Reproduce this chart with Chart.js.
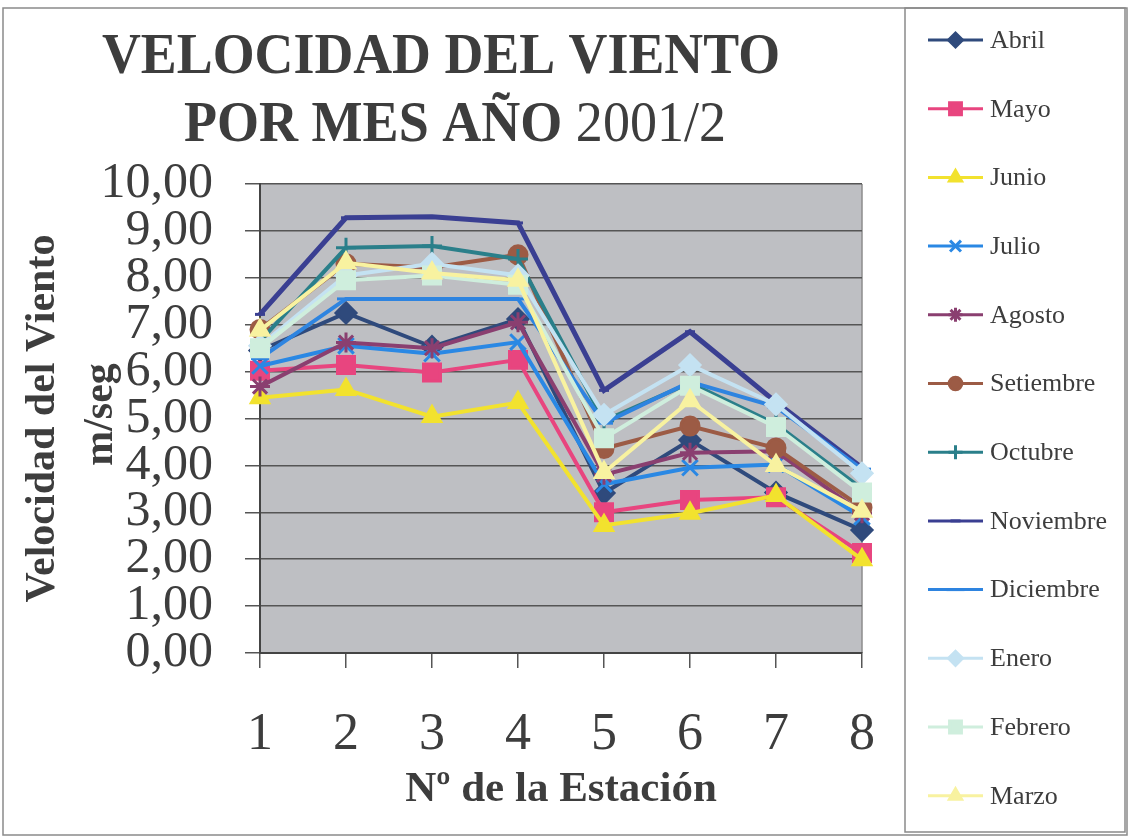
<!DOCTYPE html>
<html lang="es">
<head>
<meta charset="utf-8">
<title>Velocidad del viento por mes</title>
<script src="https://cdn.jsdelivr.net/npm/chart.js@4.4.1/dist/chart.umd.min.js"></script>
<style>
    html, body { margin: 0; padding: 0; background: #fff; }
    #wrap { width: 1130px; height: 838px; position: relative; }
</style>
</head>
<body>
<div id="wrap"><canvas id="vientoChart"></canvas></div>
<script>
// Estaciones de medición (eje X)
const estaciones = ['1', '2', '3', '4', '5', '6', '7', '8'];
const meses = ['Abril', 'Mayo', 'Junio', 'Julio', 'Agosto', 'Setiembre',
    'Octubre', 'Noviembre', 'Diciembre', 'Enero', 'Febrero', 'Marzo'];

// Velocidad media del viento (m/seg) por estación
const abril     = [6.45, 7.25, 6.53, 7.12, 3.41, 4.54, 3.42, 2.62];
const mayo      = [6.02, 6.14, 5.98, 6.25, 3.00, 3.26, 3.32, 2.13];
const junio     = [5.44, 5.62, 5.04, 5.34, 2.72, 2.98, 3.36, 1.99];
const julio     = [6.12, 6.55, 6.38, 6.63, 3.60, 3.95, 4.02, 2.90];
const agosto    = [5.68, 6.62, 6.50, 7.05, 3.80, 4.27, 4.30, 2.98];
const setiembre = [6.90, 8.30, 8.22, 8.49, 4.36, 4.84, 4.37, 3.10];
const octubre   = [6.65, 8.64, 8.68, 8.40, 4.95, 5.76, 4.88, 3.50];
const noviembre = [7.22, 9.28, 9.30, 9.17, 5.60, 6.85, 5.35, 3.95];
const diciembre = [6.28, 7.55, 7.55, 7.55, 4.90, 5.78, 5.25, 3.92];
const enero     = [6.55, 8.05, 8.30, 8.05, 5.08, 6.14, 5.30, 3.83];
const febrero   = [6.50, 7.95, 8.05, 7.85, 4.58, 5.70, 4.82, 3.42];
const marzo     = [6.88, 8.32, 8.10, 7.95, 3.85, 5.38, 4.00, 3.02];
const series = [abril, mayo, junio, julio, agosto, setiembre,
    octubre, noviembre, diciembre, enero, febrero, marzo];

// Escala vertical
const yMin = 0;
const yMax = 10;
const yStep = 1;

// Estilo de cada mes: color, marcador y tamaño
const estilos = [
    { color: '#2f4a7c', marker: 'rectRot',  r: 10 },
    { color: '#e8457f', marker: 'rect',     r: 12 },
    { color: '#f2e22e', marker: 'triangle', r: 10 },
    { color: '#2a88e4', marker: 'crossRot', r: 11 },
    { color: '#8a3f70', marker: 'star',     r: 10 },
    { color: '#9c5b45', marker: 'circle',   r: 9 },
    { color: '#2a7f8a', marker: 'cross',    r: 10 },
    { color: '#3a3f92', marker: 'line',     r: 5 },
    { color: '#2e84e0', marker: 'line',     r: 9 },
    { color: '#c4e2f2', marker: 'rectRot',  r: 10 },
    { color: '#cfeedd', marker: 'rect',     r: 12 },
    { color: '#f8f2a0', marker: 'triangle', r: 10 }
];

const textColor = '#3d3d3d';
const serif = '"Liberation Serif", "Times New Roman", serif';

const datasets = series.map((data, i) => {
    const e = estilos[i];
    return {
        label: meses[i],
        data: data,
        borderColor: e.color,
        backgroundColor: e.color,
        borderWidth: i === 7 ? 5 : 4,
        pointStyle: e.marker,
        pointRadius: e.r,
        pointBorderWidth: 3,
        pointBackgroundColor: e.color,
        pointBorderColor: e.color,
        tension: 0,
        // los últimos meses se dibujan encima
        order: -i
    };
});

// Texto en una línea ajustado a un ancho dado (mezcla negrita / normal)
function drawFitted(ctx, parts, x0, x1, baseline) {
    let total = 0;
    const widths = parts.map(p => {
        ctx.font = p.font;
        const w = ctx.measureText(p.text).width;
        total += w;
        return w;
    });
    ctx.save();
    ctx.translate(x0, baseline);
    ctx.scale((x1 - x0) / total, 1);
    ctx.textAlign = 'left';
    ctx.textBaseline = 'alphabetic';
    let x = 0;
    parts.forEach((p, k) => {
        ctx.font = p.font;
        ctx.fillText(p.text, x, 0);
        x += widths[k];
    });
    ctx.restore();
}

const marcoPlugin = {
    id: 'marco',
    beforeDraw(chart) {
        const ctx = chart.ctx;
        const a = chart.chartArea;
        ctx.save();
        ctx.fillStyle = '#ffffff';
        ctx.fillRect(0, 0, chart.width, chart.height);
        // fondo gris del área de trazado
        ctx.fillStyle = '#bebfc3';
        ctx.fillRect(a.left, a.top, a.right - a.left, a.bottom - a.top);
        ctx.strokeStyle = '#8c8c8c';
        ctx.lineWidth = 1.5;
        ctx.beginPath();
        ctx.moveTo(a.right, a.top);
        ctx.lineTo(a.right, a.bottom);
        ctx.stroke();
        // marco exterior y caja de la leyenda
        ctx.strokeStyle = '#8a8a8a';
        ctx.lineWidth = 1.5;
        ctx.strokeRect(3, 8, 1124, 827);
        ctx.strokeRect(905, 8, 220, 824);
        ctx.restore();
    },
    afterDraw(chart) {
        const ctx = chart.ctx;
        ctx.save();
        ctx.fillStyle = textColor;

        // título
        drawFitted(ctx, [{ text: 'VELOCIDAD DEL VIENTO', font: 'bold 58px ' + serif }], 102, 780, 73);
        drawFitted(ctx, [
            { text: 'POR MES AÑO ', font: 'bold 58px ' + serif },
            { text: '2001/2', font: '58px ' + serif }
        ], 184, 726, 141);

        // título del eje Y (dos líneas giradas)
        const cy = (chart.chartArea.top + chart.chartArea.bottom) / 2;
        ctx.font = 'bold 42px ' + serif;
        ctx.textAlign = 'center';
        ctx.textBaseline = 'alphabetic';
        ctx.save();
        ctx.translate(54, cy);
        ctx.rotate(-Math.PI / 2);
        ctx.fillText('Velocidad del Viento', 0, 0);
        ctx.restore();
        ctx.save();
        ctx.translate(112, cy - 4);
        ctx.rotate(-Math.PI / 2);
        ctx.fillText('m/seg', 0, 0);
        ctx.restore();

        // leyenda: línea con marcador y nombre del mes
        const drawPoint = Chart.helpers && Chart.helpers.drawPoint;
        chart.data.datasets.forEach((ds, i) => {
            const y = 40 + i * 68.7;
            ctx.strokeStyle = ds.borderColor;
            ctx.fillStyle = ds.borderColor;
            ctx.lineWidth = 3;
            ctx.beginPath();
            ctx.moveTo(928, y);
            ctx.lineTo(983, y);
            ctx.stroke();
            if (drawPoint) {
                drawPoint(ctx, {
                    pointStyle: ds.pointStyle,
                    radius: ds.pointStyle === 'line' ? ds.pointRadius : ds.pointRadius * 0.7,
                    borderWidth: 3,
                    rotation: 0
                }, 955.5, y);
            }
            ctx.fillStyle = textColor;
            ctx.font = '26px ' + serif;
            ctx.textAlign = 'left';
            ctx.textBaseline = 'middle';
            ctx.fillText(ds.label, 990, y + 1);
        });
        ctx.restore();
    }
};

new Chart(document.getElementById('vientoChart'), {
    type: 'line',
    data: { labels: estaciones, datasets: datasets },
    options: {
        responsive: true,
        maintainAspectRatio: false,
        animation: false,
        layout: { padding: { top: 184, right: 268, bottom: 0, left: 0 } },
        plugins: {
            legend: { display: false },
            title: { display: false },
            tooltip: { enabled: false }
        },
        scales: {
            x: {
                type: 'category',
                offset: false,
                afterFit: s => { s.height = 185; },
                grid: {
                    drawOnChartArea: false,
                    drawTicks: true,
                    tickLength: 15,
                    color: '#555',
                    lineWidth: 1.5
                },
                border: { color: '#444', width: 2 },
                ticks: {
                    color: textColor,
                    font: { family: serif, size: 52 },
                    padding: 36,
                    maxRotation: 0,
                    autoSkip: false
                },
                title: {
                    display: true,
                    text: 'Nº de la Estación',
                    color: textColor,
                    font: { family: serif, size: 43, weight: 'bold' },
                    padding: { top: 0, bottom: 22 }
                }
            },
            y: {
                min: yMin,
                max: yMax,
                afterFit: s => { s.width = 260; },
                grid: {
                    color: '#555',
                    lineWidth: 1.5,
                    tickLength: 15
                },
                border: { color: '#444', width: 2 },
                ticks: {
                    stepSize: yStep,
                    autoSkip: false,
                    color: textColor,
                    font: { family: serif, size: 50, lineHeight: 0.9 },
                    padding: 32,
                    callback: v => v.toFixed(2).replace('.', ',')
                }
            }
        }
    },
    plugins: [marcoPlugin]
});
</script>
</body>
</html>
